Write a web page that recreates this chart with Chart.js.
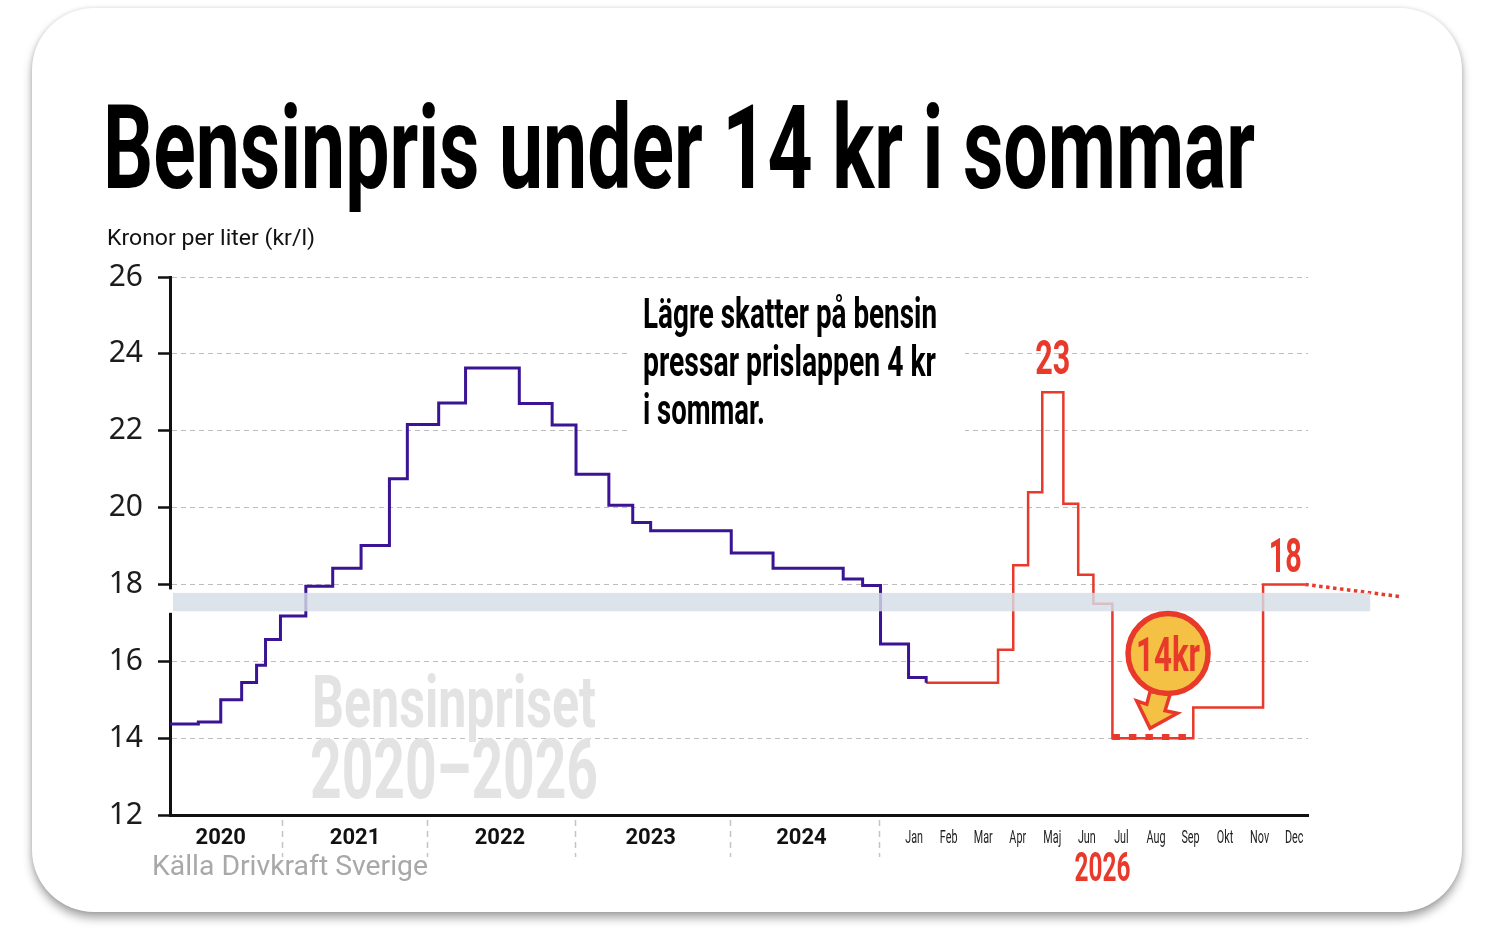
<!DOCTYPE html>
<html>
<head>
<meta charset="utf-8">
<title>Bensinpris under 14 kr i sommar</title>
<script src="https://cdn.jsdelivr.net/npm/chart.js@4.4.1/dist/chart.umd.min.js"></script>
<style>
  html, body { margin: 0; padding: 0; background: #fff; }
  #card {
    position: absolute; left: 32px; top: 8px; width: 1430px; height: 904px;
    border-radius: 62px; background: #fff;
    box-shadow: 0 6px 10px rgba(0,0,0,0.35), 0 0 4px rgba(0,0,0,0.12);
  }
  #chart { position: absolute; left: 0; top: 0; }
</style>
</head>
<body>
<div id="card"></div>
<canvas id="chart" width="1492" height="942"></canvas>
<script>
// Bensinpris 2020-2024, trappsteg (x = decimalår, pris i kr/l)
const histYear = [2020.25, 2020.44, 2020.59, 2020.73, 2020.83, 2020.89, 2020.99, 2021.16, 2021.34,
  2021.53, 2021.72, 2021.84, 2022.05, 2022.23, 2022.59, 2022.81, 2022.97, 2023.19, 2023.35,
  2023.47, 2024.01, 2024.29, 2024.76, 2024.89, 2025.01];
const histPrice = [14.37, 14.42, 15.00, 15.45, 15.90, 16.57, 17.18, 17.95, 18.42,
  19.01, 20.75, 22.16, 22.72, 23.63, 22.71, 22.15, 20.87, 20.06, 19.61,
  19.40, 18.82, 18.42, 18.14, 17.97, 16.45];

// sista blå stegen i januari 2026 (x = månad, 0 = 1 jan)
const tailMonth = [0.34, 0.85];
const tailPrice = [15.58, 15.44];

// 2026 (röd linje)
const month26 = [0.85, 2.93, 3.37, 3.80, 4.21, 4.82, 5.25, 5.69, 6.24, 8.58, 10.60, 11.82];
const price26 = [15.44, 16.30, 18.50, 20.40, 23.00, 20.10, 18.25, 17.50, 14.00, 14.80, 18.00, 18.00];

// botten i sommar + prickad fortsättning
const lowMonth = [6.24, 8.58];
const lowPrice = [14.03, 14.03];
const trendMonth = [11.82, 14.6];
const trendPrice = [18.00, 17.68];

// grått band runt 17,5 kr
const bandLow = 17.3;
const bandHigh = 17.78;
const bandEndMonth = 13.7;

const yearLabels = ['2020', '2021', '2022', '2023', '2024'];
const yearLabelPos = [2020.59, 2021.49, 2022.46, 2023.47, 2024.48];
const yearBreaks = [2021, 2021.97, 2022.96, 2024, 2025];
const monthLabels = ['Jan', 'Feb', 'Mar', 'Apr', 'Maj', 'Jun', 'Jul', 'Aug', 'Sep', 'Okt', 'Nov', 'Dec'];

// 2026 visas utdraget: en månad motsvarar 0.2315 "år" på axeln
const M0 = 2025.119;
const MW = 0.23149;
function mpos(m) { return M0 + m * MW; }

const BLUE = '#3a1494';
const RED = '#e8392b';

function pts(xs, ys, fx) {
  return xs.map((v, i) => ({ x: fx ? fx(v) : v, y: ys[i] }));
}

// text med horisontell komprimering (kondenserad stil)
function cond(ctx, text, x, y, font, color, opt) {
  ctx.save();
  ctx.font = font;
  ctx.fillStyle = color;
  ctx.textBaseline = 'alphabetic';
  const w = ctx.measureText(text).width;
  const sx = opt.w ? opt.w / w : opt.sx;
  const tw = w * sx;
  let dx = 0;
  if (opt.align === 'center') dx = -tw / 2;
  if (opt.align === 'right') dx = -tw;
  ctx.translate(x + dx, y);
  ctx.scale(sx, 1);
  ctx.fillText(text, 0, 0);
  ctx.restore();
}

const decor = {
  id: 'decor',
  beforeDatasetsDraw(chart) {
    const { ctx } = chart;
    ctx.save();
    ctx.fillStyle = '#fff';
    ctx.fillRect(628, 290, 337, 150);
    ctx.restore();
    cond(ctx, 'Bensinpriset', 312, 727, '700 72px Roboto', '#e3e3e3', { w: 284 });
    cond(ctx, '2020\u20132026', 310, 798, '700 84px Roboto', '#e3e3e3', { w: 288 });
  },
  afterDatasetsDraw(chart) {
    const { ctx, chartArea, scales: { x, y } } = chart;
    const yt = y.getPixelForValue(bandHigh);
    const yb = y.getPixelForValue(bandLow);
    const xr = x.getPixelForValue(mpos(bandEndMonth));
    ctx.save();
    ctx.fillStyle = 'rgba(214,221,230,0.82)';
    ctx.fillRect(chartArea.left + 3, yt, xr - chartArea.left - 3, yb - yt);
    ctx.fillStyle = '#fff';
    ctx.fillRect(chartArea.left - 5, yt - 3.5, 8, yb - yt + 5);

    // årsavdelare under axeln
    ctx.strokeStyle = '#c4c4c4';
    ctx.lineWidth = 1.5;
    ctx.setLineDash([6, 5]);
    yearBreaks.forEach(v => {
      const px = Math.round(x.getPixelForValue(v)) + 0.5;
      ctx.beginPath();
      ctx.moveTo(px, chartArea.bottom + 5);
      ctx.lineTo(px, chartArea.bottom + 42);
      ctx.stroke();
    });
    ctx.setLineDash([]);

    // 14 kr-bricka
    const cx = x.getPixelForValue(mpos(7.85));
    const cy = y.getPixelForValue(16.2);
    const arrow = [[-31.3, 47.3], [-21.3, 50.7], [-18, 38], [2, 41], [-3, 57], [9.3, 59.7], [-18, 74.7]];
    ctx.beginPath();
    arrow.forEach((p, i) => i ? ctx.lineTo(cx + p[0], cy + p[1]) : ctx.moveTo(cx + p[0], cy + p[1]));
    ctx.closePath();
    ctx.fillStyle = '#f5c144';
    ctx.fill();
    ctx.strokeStyle = RED;
    ctx.lineWidth = 3.5;
    ctx.lineJoin = 'miter';
    ctx.stroke();
    ctx.beginPath();
    ctx.arc(cx, cy, 40, 0, Math.PI * 2);
    ctx.fillStyle = '#f5c144';
    ctx.fill();
    ctx.lineWidth = 5.5;
    ctx.stroke();
    ctx.restore();
    cond(ctx, '14kr', cx, cy + 17, '700 48px Roboto', RED, { w: 64, align: 'center' });

    // värdeetiketter
    cond(ctx, '23', x.getPixelForValue(mpos(4.515)), y.getPixelForValue(23) - 18, '700 48px Roboto', RED, { w: 35, align: 'center' });
    cond(ctx, '18', x.getPixelForValue(mpos(11.24)), y.getPixelForValue(18) - 12, '700 48px Roboto', RED, { w: 33, align: 'center' });
  },
  afterDraw(chart) {
    const { ctx, chartArea, scales: { x } } = chart;
    const base = chartArea.bottom;

    yearLabels.forEach((t, i) => {
      cond(ctx, t, x.getPixelForValue(yearLabelPos[i]), base + 29, '700 22px Roboto', '#111', { sx: 1, align: 'center' });
    });
    monthLabels.forEach((t, i) => {
      cond(ctx, t, x.getPixelForValue(mpos(i + 0.5)), base + 28, '400 18px Roboto', '#222', { sx: 0.6, align: 'center' });
    });
    cond(ctx, '2026', x.getPixelForValue(mpos(5.95)), base + 66, '700 41px Roboto', RED, { w: 56, align: 'center' });

    cond(ctx, 'Bensinpris under 14 kr i sommar', 103, 188, '700 117px Roboto', '#000', { w: 1152 });
    cond(ctx, 'Kronor per liter (kr/l)', 107, 245, '400 22px Roboto', '#111', { w: 208 });

    cond(ctx, 'Lägre skatter på bensin', 643, 328, '700 42px Roboto', '#000', { w: 294 });
    cond(ctx, 'pressar prislappen 4 kr', 643, 376, '700 42px Roboto', '#000', { w: 293 });
    cond(ctx, 'i sommar.', 643, 424, '700 42px Roboto', '#000', { w: 122 });

    cond(ctx, 'Källa Drivkraft Sverige', 152, 875, '400 28px Roboto', '#a8a8a8', { w: 276 });
  }
};

const blueData = pts(histYear, histPrice).concat(pts(tailMonth, tailPrice, mpos));

new Chart(document.getElementById('chart'), {
  type: 'line',
  data: {
    datasets: [
      {
        label: 'Bensinpris',
        data: blueData,
        borderColor: BLUE,
        borderWidth: 3,
        stepped: true,
        pointRadius: 0,
        fill: false
      },
      {
        label: '2026',
        data: pts(month26, price26, mpos),
        borderColor: RED,
        borderWidth: 2.5,
        stepped: true,
        pointRadius: 0,
        fill: false
      },
      {
        label: 'Botten',
        data: pts(lowMonth, lowPrice, mpos),
        borderColor: RED,
        borderWidth: 6,
        borderDash: [7.5, 9],
        pointRadius: 0,
        fill: false
      },
      {
        label: 'Trend',
        data: pts(trendMonth, trendPrice, mpos),
        borderColor: RED,
        borderWidth: 3.5,
        borderDash: [3.5, 3.5],
        pointRadius: 0,
        fill: false,
        clip: false
      }
    ]
  },
  options: {
    responsive: false,
    animation: false,
    layout: { padding: { top: 277, right: 184, left: 0, bottom: 0 } },
    plugins: {
      legend: { display: false },
      tooltip: { enabled: false }
    },
    scales: {
      x: {
        type: 'linear',
        min: 2020.25,
        max: mpos(11.9),
        ticks: { display: false },
        grid: { display: false },
        border: { display: true, color: '#111', width: 3 },
        afterFit(scale) { scale.height = 127; }
      },
      y: {
        min: 12,
        max: 26,
        ticks: {
          stepSize: 2,
          padding: 15,
          color: '#1c1c1c',
          font: { family: 'Noto Sans', size: 30 }
        },
        grid: {
          color: '#bdbdbd',
          lineWidth: 1,
          tickColor: '#111',
          tickLength: 12,
          tickWidth: 2.5
        },
        border: { display: true, color: '#111', width: 3, dash: [5, 4] },
        afterFit(scale) { scale.width = 170; }
      }
    }
  },
  plugins: [decor]
});
</script>
</body>
</html>
